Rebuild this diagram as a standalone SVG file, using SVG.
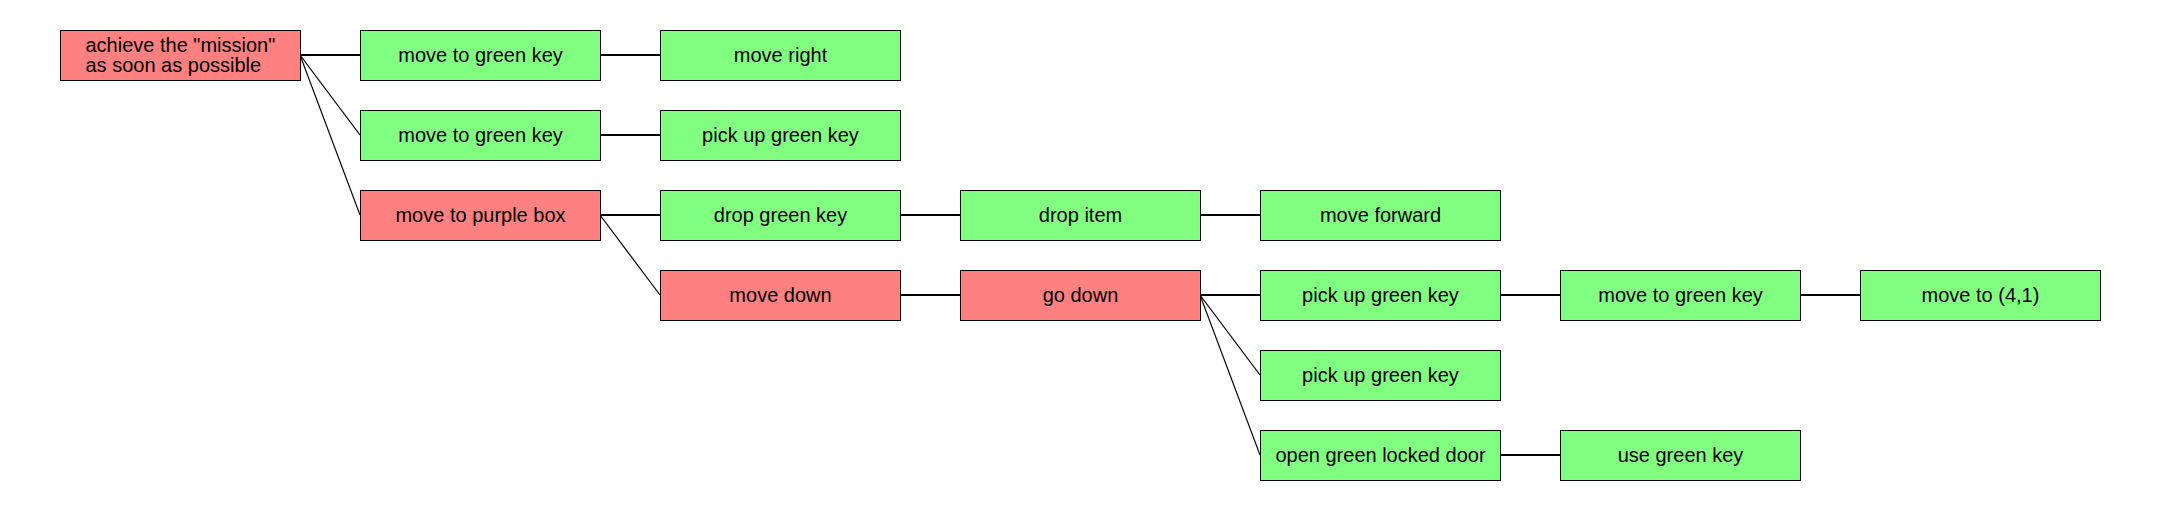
<svg xmlns="http://www.w3.org/2000/svg" width="2160" height="510" viewBox="0 0 2160 510">
<style>
.n rect{stroke:#000;stroke-width:1}
.r rect{fill:#FF8080}
.g rect{fill:#80FF80}
text{font-family:"Liberation Sans",Arial,sans-serif;font-size:20px;fill:#000;text-anchor:middle}
.e line{stroke:#000;stroke-width:2}
.e line.d{stroke-width:1.2}
</style>
<rect width="2160" height="510" fill="#fff"/>
<g class="e" id="connectors">
<line x1="300" y1="55" x2="360" y2="55"/>
<line class="d" x1="300" y1="55" x2="360" y2="135"/>
<line class="d" x1="300" y1="55" x2="360" y2="215"/>
<line x1="600" y1="55" x2="660" y2="55"/>
<line x1="600" y1="135" x2="660" y2="135"/>
<line x1="600" y1="215" x2="660" y2="215"/>
<line class="d" x1="600" y1="215" x2="660" y2="295"/>
<line x1="900" y1="215" x2="960" y2="215"/>
<line x1="1200" y1="215" x2="1260" y2="215"/>
<line x1="900" y1="295" x2="960" y2="295"/>
<line x1="1200" y1="295" x2="1260" y2="295"/>
<line class="d" x1="1200" y1="295" x2="1260" y2="375"/>
<line class="d" x1="1200" y1="295" x2="1260" y2="455"/>
<line x1="1500" y1="295" x2="1560" y2="295"/>
<line x1="1800" y1="295" x2="1860" y2="295"/>
<line x1="1500" y1="455" x2="1560" y2="455"/>
</g>
<g id="root" class="n r"><rect x="60.5" y="30.5" width="240" height="50"/><text x="85.5" y="51.5" style="text-anchor:start">achieve the "mission"</text><text x="85.5" y="71.5" style="text-anchor:start">as soon as possible</text></g>
<g id="n1" class="n g"><rect x="360.5" y="30.5" width="240" height="50"/><text x="480.5" y="62">move to green key</text></g>
<g id="n2" class="n g"><rect x="360.5" y="110.5" width="240" height="50"/><text x="480.5" y="142">move to green key</text></g>
<g id="n3" class="n r"><rect x="360.5" y="190.5" width="240" height="50"/><text x="480.5" y="222">move to purple box</text></g>
<g id="n4" class="n g"><rect x="660.5" y="30.5" width="240" height="50"/><text x="780.5" y="62">move right</text></g>
<g id="n5" class="n g"><rect x="660.5" y="110.5" width="240" height="50"/><text x="780.5" y="142">pick up green key</text></g>
<g id="n6" class="n g"><rect x="660.5" y="190.5" width="240" height="50"/><text x="780.5" y="222">drop green key</text></g>
<g id="n7" class="n r"><rect x="660.5" y="270.5" width="240" height="50"/><text x="780.5" y="302">move down</text></g>
<g id="n8" class="n g"><rect x="960.5" y="190.5" width="240" height="50"/><text x="1080.5" y="222">drop item</text></g>
<g id="n9" class="n r"><rect x="960.5" y="270.5" width="240" height="50"/><text x="1080.5" y="302">go down</text></g>
<g id="n10" class="n g"><rect x="1260.5" y="190.5" width="240" height="50"/><text x="1380.5" y="222">move forward</text></g>
<g id="n11" class="n g"><rect x="1260.5" y="270.5" width="240" height="50"/><text x="1380.5" y="302">pick up green key</text></g>
<g id="n12" class="n g"><rect x="1260.5" y="350.5" width="240" height="50"/><text x="1380.5" y="382">pick up green key</text></g>
<g id="n13" class="n g"><rect x="1260.5" y="430.5" width="240" height="50"/><text x="1380.5" y="462">open green locked door</text></g>
<g id="n14" class="n g"><rect x="1560.5" y="270.5" width="240" height="50"/><text x="1680.5" y="302">move to green key</text></g>
<g id="n15" class="n g"><rect x="1560.5" y="430.5" width="240" height="50"/><text x="1680.5" y="462">use green key</text></g>
<g id="n16" class="n g"><rect x="1860.5" y="270.5" width="240" height="50"/><text x="1980.5" y="302">move to (4,1)</text></g>
</svg>
